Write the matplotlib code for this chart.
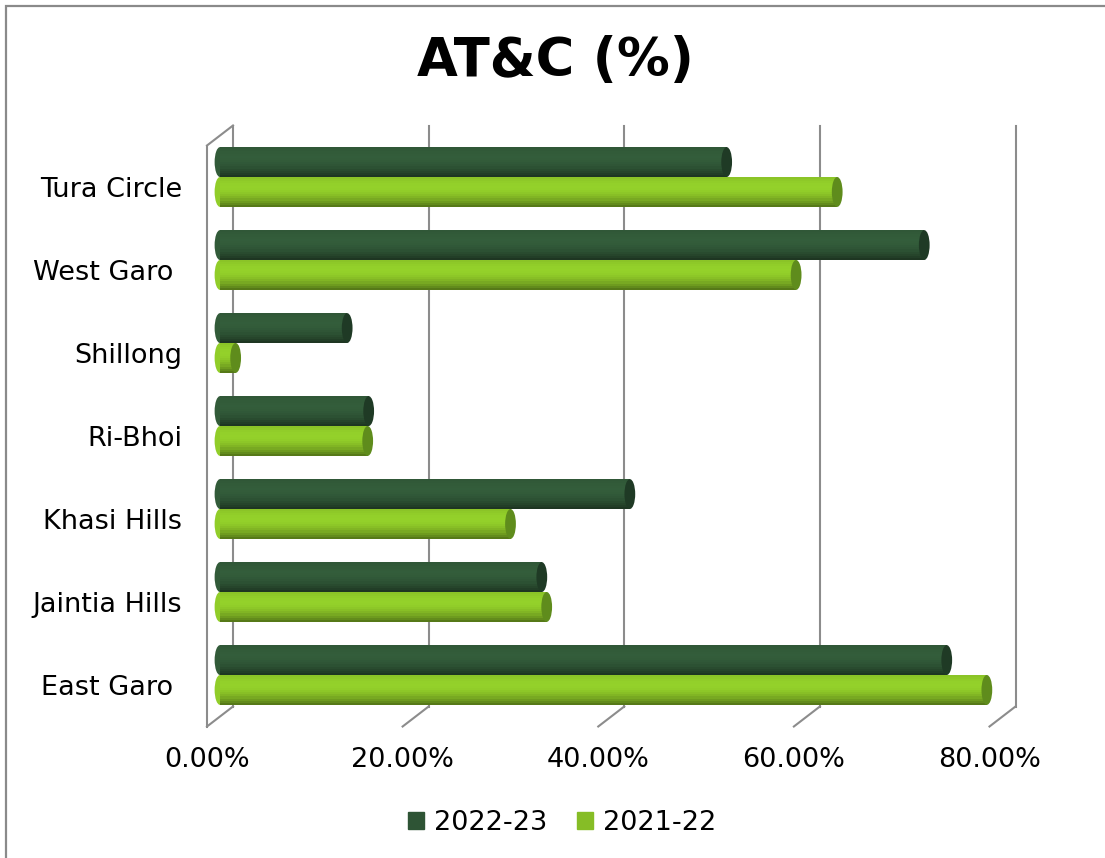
import matplotlib
matplotlib.use("Agg")
import matplotlib.pyplot as plt
import matplotlib.transforms as mtransforms
from matplotlib.patches import Ellipse, Patch, Rectangle
import numpy as np

# data, bottom -> top
districts = ["East Garo ", "Jaintia Hills", "Khasi Hills", "Ri-Bhoi", "Shillong", "West Garo ", "Tura Circle"]
atc_2022_23 = [74.3, 32.9, 41.9, 15.2, 13.0, 72.0, 51.8]
atc_2021_22 = [78.4, 33.4, 29.7, 15.1, 1.6, 58.9, 63.1]
xticks = [0, 20, 40, 60, 80]
xtick_labels = ["0.00%", "20.00%", "40.00%", "60.00%", "80.00%"]

dark = "#2e5435"
light = "#86bd26"
grid_col = "#8c8c8c"

W, H = 1105, 858
fig = plt.figure(figsize=(W / 100, H / 100), dpi=100)
fig.patch.set_facecolor("white")

# axes placed in pixel terms (image coords, y from top)
left, right, top, bottom = 220, 1002.5, 135.5, 716.5
ax = fig.add_axes([left / W, 1 - bottom / H, (right - left) / W, (bottom - top) / H])
ax.set_xlim(0, 80)
ax.set_ylim(-0.5, 6.5)
for s in ax.spines.values():
    s.set_visible(False)
ax.set_facecolor("none")

# fake depth offsets (back wall / front floor)
back = ax.transData + mtransforms.ScaledTranslation(0.13, 0.10, fig.dpi_scale_trans)
front = ax.transData + mtransforms.ScaledTranslation(-0.13, -0.10, fig.dpi_scale_trans)

for v in xticks:
    ax.plot([v, v], [-0.5, 6.5], color=grid_col, lw=1.5, transform=back, clip_on=False, zorder=0)
    # floor diagonal
    p1 = back.transform((v, -0.5))
    p2 = front.transform((v, -0.5))
    ax.plot([p1[0], p2[0]], [p1[1], p2[1]], color=grid_col, lw=1.5, transform=None, clip_on=False, zorder=0)

# left side wall
ax.plot([0, 0], [-0.5, 6.5], color=grid_col, lw=1.5, transform=front, clip_on=False, zorder=0)
p1 = back.transform((0, 6.5))
p2 = front.transform((0, 6.5))
ax.plot([p1[0], p2[0]], [p1[1], p2[1]], color=grid_col, lw=1.5, transform=None, clip_on=False, zorder=0)

# cylinders
y = np.arange(len(districts))
bh = 0.36
cap_w = 1.1


def shades(base, n):
    c = np.array(matplotlib.colors.to_rgb(base))
    out = []
    for k in range(n):
        t = (k + 0.5) / n  # 0 = bottom, 1 = top
        # brightest a bit above the middle, darker toward the edges
        f = 1.0 + 0.12 * np.cos((t - 0.6) * np.pi * 1.1) - 0.35 * (1 - t) ** 3
        out.append(np.clip(c * f, 0, 1))
    return out


def cylinders(vals, yc, base, cap):
    n = 14
    cols = shades(base, n)
    for yi, v in zip(yc, vals):
        ax.add_patch(Ellipse((0, yi), cap_w, bh, color=cols[n // 2], zorder=2, lw=0, clip_on=False))
    for k in range(n):
        off = -bh / 2 + (k + 0.5) * bh / n
        ax.barh(yc + off, vals, height=bh / n + 0.002, color=cols[k], lw=0, zorder=3)
    for yi, v in zip(yc, vals):
        ax.add_patch(Ellipse((v, yi), cap_w, bh, color=cap, zorder=4, lw=0, clip_on=False))


cylinders(atc_2022_23, y + bh / 2, dark, "#1f3a25")
cylinders(atc_2021_22, y - bh / 2, light, "#5f8c1c")

# ticks
ax.set_yticks(y)
ax.set_yticklabels(districts, fontsize=19.5)
ax.set_xticks(xticks)
ax.set_xticklabels(xtick_labels, fontsize=19.5)
ax.tick_params(length=0)
ax.tick_params(axis="y", pad=18)
ax.tick_params(axis="x", pad=15)
shift = mtransforms.ScaledTranslation(-0.13, -0.10, fig.dpi_scale_trans)
for lab in ax.get_yticklabels() + ax.get_xticklabels():
    lab.set_transform(lab.get_transform() + shift)

fig.text(555 / W, 1 - 61 / H, "AT&C (%)", fontsize=38, fontweight="bold", ha="center", va="center")

handles = [Patch(color=dark, label="2022-23"), Patch(color=light, label="2021-22")]
fig.legend(handles=handles, loc="center", bbox_to_anchor=(562 / W, 1 - 823 / H), ncol=2, frameon=False,
           fontsize=19.5, handlelength=0.6, handleheight=0.6, handletextpad=0.35, columnspacing=1.1)

# chart border (only top/left show in the crop)
fig.patches.append(Rectangle((6 / W, -0.05), 1.2, 1 - 6 / H + 0.05, transform=fig.transFigure,
                             fill=False, edgecolor="#8a8a8a", lw=1.6))

fig.savefig("out.png", dpi=100, facecolor="white")
